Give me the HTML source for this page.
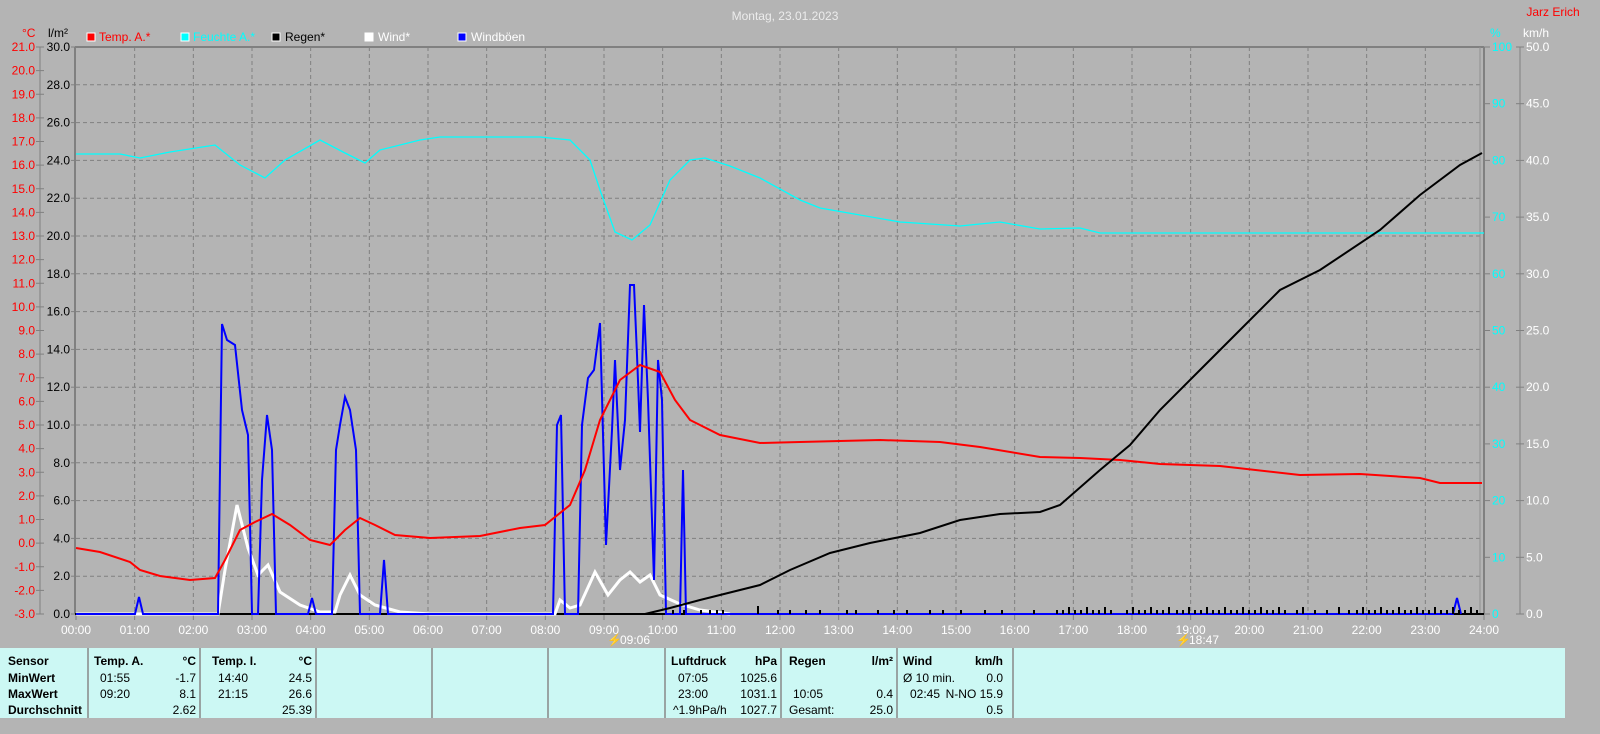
<!DOCTYPE html>
<html><head><meta charset="utf-8"><style>
body{margin:0;background:#b4b4b4;width:1600px;height:734px;overflow:hidden;font-family:"Liberation Sans",sans-serif}
svg{position:absolute;left:0;top:0}
text{font-family:"Liberation Sans",sans-serif;font-size:12px}
</style></head><body>
<svg width="1600" height="734" viewBox="0 0 1600 734">
<rect width="1600" height="734" fill="#b4b4b4"/>
<text x="785" y="20" fill="#ececec" font-size="14" text-anchor="middle">Montag, 23.01.2023</text>
<text x="1553" y="16" fill="#f00" text-anchor="middle">Jarz Erich</text>
<text x="22" y="37" fill="#f00">°C</text>
<text x="48" y="37" fill="#000">l/m²</text>
<text x="1490" y="37" fill="#0ff">%</text>
<text x="1523" y="37" fill="#fff">km/h</text>
<rect x="87" y="33" width="8" height="8" fill="#f00" stroke="#fff"/><text x="99" y="41" fill="#f00">Temp. A.*</text>
<rect x="181" y="33" width="8" height="8" fill="#0ff" stroke="#fff"/><text x="193" y="41" fill="#0ff">Feuchte A.*</text>
<rect x="272" y="33" width="8" height="8" fill="#000" stroke="#fff"/><text x="285" y="41" fill="#000">Regen*</text>
<rect x="365" y="33" width="8" height="8" fill="#fff" stroke="#fff"/><text x="378" y="41" fill="#fff">Wind*</text>
<rect x="458" y="33" width="8" height="8" fill="#00f" stroke="#fff"/><text x="471" y="41" fill="#fff">Windböen</text>
<g id="grid" stroke="#808080" stroke-dasharray="4,3" stroke-width="1"></g>
<g id="ticks"></g>
<line x1="40" y1="47" x2="40" y2="614" stroke="#808080"/>
<line x1="75" y1="47" x2="75" y2="614" stroke="#808080" stroke-width="2"/>
<line x1="75" y1="47" x2="1484" y2="47" stroke="#808080" stroke-width="2"/>
<line x1="1484" y1="47" x2="1484" y2="614" stroke="#808080" stroke-width="2"/>
<line x1="1480" y1="47" x2="1480" y2="614" stroke="#909090"/>
<line x1="1520" y1="47" x2="1520" y2="614" stroke="#808080"/>
<line x1="75" y1="614" x2="1484" y2="614" stroke="#000" stroke-width="2"/>
<polyline fill="none" stroke="#0ff" stroke-width="1.3" points="76,154 120,154 140,158 170,152 215,145 240,165 265,178 285,160 320,140 345,153 365,163 380,150 420,140 440,137 540,137 570,140 590,160 600,190 615,232 632,240 650,225 670,180 690,160 705,158 730,166 760,178 800,200 820,208 860,215 900,222 960,226 1000,222 1040,229 1080,228 1100,233 1484,233"/>
<polyline fill="none" stroke="#fff" stroke-width="3" points="76,614 218,614 225,570 237,505 248,548 258,575 268,565 280,592 300,605 320,612 335,612 340,595 350,575 360,595 375,605 400,612 430,614 555,614 560,600 570,608 580,605 595,572 608,595 620,580 630,572 640,582 650,575 660,595 680,604 700,610 730,614"/>
<polyline fill="none" stroke="#00f" stroke-width="2" points="76,614 135,614 139,597 143,614 218,614 222,324 227,340 235,345 242,410 248,435 252,614 258,614 262,480 267,415 272,450 276,614 308,614 312,598 316,614 332,614 336,450 340,425 345,397 350,410 356,450 360,614 380,614 384,560 388,614 553,614 557,425 561,415 565,614 578,614 582,425 588,378 594,370 600,323 606,545 612,430 615,360 620,470 625,420 630,285 634,285 637,355 640,432 644,305 648,400 654,580 658,360 662,400 666,614 680,614 683,470 686,614 1453,614 1457,598 1461,614"/>
<polyline fill="none" stroke="#f00" stroke-width="2" points="76,548 100,552 130,562 140,570 160,576 190,580 215,578 225,560 240,530 255,522 272,514 290,525 310,540 330,545 345,530 360,518 375,525 395,535 430,538 480,536 520,528 545,525 570,505 585,470 600,420 620,380 640,365 660,372 675,400 690,420 720,435 760,443 800,442 880,440 940,442 980,447 1040,457 1080,458 1120,460 1160,464 1220,466 1300,475 1360,474 1420,478 1440,483 1482,483"/>
<polyline fill="none" stroke="#000" stroke-width="2" points="645,614 670,608 700,600 760,585 790,570 830,553 870,543 920,533 960,520 1000,514 1040,512 1060,505 1100,470 1130,445 1160,410 1200,370 1240,330 1280,290 1320,270 1380,230 1420,195 1460,165 1482,153"/>
<g id="bars" fill="#000"></g>
<text x="620" y="644" fill="#fff">09:06</text><text x="607" y="644" fill="#ff0" font-size="10">⚡</text>
<text x="1189" y="644" fill="#fff">18:47</text><text x="1176" y="644" fill="#ff0" font-size="10">⚡</text>
<rect x="0" y="648" width="1565" height="70" fill="#ccf8f4"/>
<g stroke="#888" stroke-width="1.5"><line x1="88" y1="648" x2="88" y2="718"/><line x1="200" y1="648" x2="200" y2="718"/><line x1="316" y1="648" x2="316" y2="718"/><line x1="432" y1="648" x2="432" y2="718"/><line x1="548" y1="648" x2="548" y2="718"/><line x1="665" y1="648" x2="665" y2="718"/><line x1="781" y1="648" x2="781" y2="718"/><line x1="897" y1="648" x2="897" y2="718"/><line x1="1013" y1="648" x2="1013" y2="718"/></g>
<g font-size="11" fill="#000">
<text x="8" y="665" font-weight="bold">Sensor</text><text x="8" y="682" font-weight="bold">MinWert</text><text x="8" y="698" font-weight="bold">MaxWert</text><text x="8" y="714" font-weight="bold">Durchschnitt</text>
<text x="94" y="665" font-weight="bold">Temp. A.</text><text x="196" y="665" font-weight="bold" text-anchor="end">°C</text>
<text x="100" y="682">01:55</text><text x="196" y="682" text-anchor="end">-1.7</text>
<text x="100" y="698">09:20</text><text x="196" y="698" text-anchor="end">8.1</text>
<text x="196" y="714" text-anchor="end">2.62</text>
<text x="212" y="665" font-weight="bold">Temp. I.</text><text x="312" y="665" font-weight="bold" text-anchor="end">°C</text>
<text x="218" y="682">14:40</text><text x="312" y="682" text-anchor="end">24.5</text>
<text x="218" y="698">21:15</text><text x="312" y="698" text-anchor="end">26.6</text>
<text x="312" y="714" text-anchor="end">25.39</text>
<text x="671" y="665" font-weight="bold">Luftdruck</text><text x="777" y="665" font-weight="bold" text-anchor="end">hPa</text>
<text x="678" y="682">07:05</text><text x="777" y="682" text-anchor="end">1025.6</text>
<text x="678" y="698">23:00</text><text x="777" y="698" text-anchor="end">1031.1</text>
<text x="673" y="714">^1.9hPa/h</text><text x="777" y="714" text-anchor="end">1027.7</text>
<text x="789" y="665" font-weight="bold">Regen</text><text x="893" y="665" font-weight="bold" text-anchor="end">l/m²</text>
<text x="793" y="698">10:05</text><text x="893" y="698" text-anchor="end">0.4</text>
<text x="789" y="714">Gesamt:</text><text x="893" y="714" text-anchor="end">25.0</text>
<text x="903" y="665" font-weight="bold">Wind</text><text x="1003" y="665" font-weight="bold" text-anchor="end">km/h</text>
<text x="903" y="682">Ø 10 min.</text><text x="1003" y="682" text-anchor="end">0.0</text>
<text x="910" y="698">02:45</text><text x="1003" y="698" text-anchor="end">N-NO 15.9</text>
<text x="1003" y="714" text-anchor="end">0.5</text>
</g>
</svg>
<script>
(function(){
var ns="http://www.w3.org/2000/svg";
function el(p,t,a,txt){var e=document.createElementNS(ns,t);for(var k in a)e.setAttribute(k,a[k]);if(txt!==undefined)e.textContent=txt;p.appendChild(e);return e;}
var g=document.getElementById('grid'),tk=document.getElementById('ticks'),b=document.getElementById('bars');
var T=47,B=614,L=76,R=1484,hw=(R-L)/24;
for(var h=1;h<24;h++){var x=L+h*hw;el(g,'line',{x1:x,y1:T,x2:x,y2:B});}
for(var i=1;i<15;i++){var y=B-i*(B-T)/15;el(g,'line',{x1:L,y1:y,x2:R,y2:y});}
for(var h=0;h<=24;h++){var x=L+h*hw;el(tk,'line',{x1:x,y1:614,x2:x,y2:620,stroke:'#808080'});el(tk,'text',{x:x,y:634,fill:'#fff','text-anchor':'middle'},(h<10?'0':'')+h+':00');}
for(var i=0;i<=24;i++){var y=B-i*(B-T)/24;el(tk,'line',{x1:36,y1:y,x2:44,y2:y,stroke:'#808080'});el(tk,'text',{x:35,y:y+4,fill:'#f00','text-anchor':'end'},(i-3).toFixed(1));}
for(var i=0;i<=15;i++){var y=B-i*(B-T)/15;el(tk,'line',{x1:71,y1:y,x2:76,y2:y,stroke:'#808080'});el(tk,'text',{x:70,y:y+4,fill:'#000','text-anchor':'end'},(i*2).toFixed(1));}
for(var i=0;i<=10;i++){var y=B-i*(B-T)/10;el(tk,'line',{x1:1484,y1:y,x2:1490,y2:y,stroke:'#808080'});el(tk,'text',{x:1492,y:y+4,fill:'#0ff'},String(i*10));el(tk,'line',{x1:1516,y1:y,x2:1524,y2:y,stroke:'#808080'});el(tk,'text',{x:1526,y:y+4,fill:'#fff'},(i*5).toFixed(1));}
var bx=[672,683,700,709,716,722,757,777,789,805,819,846,855,877,893,906,929,942,960,984,1001,1033,1056,1062,1068,1074,1080,1086,1092,1098,1104,1110,1126,1132,1138,1144,1150,1156,1162,1168,1176,1182,1188,1194,1200,1206,1212,1218,1224,1230,1236,1242,1248,1254,1260,1266,1272,1278,1284,1296,1302,1314,1326,1338,1348,1356,1362,1368,1374,1380,1386,1392,1398,1404,1410,1416,1422,1428,1434,1440,1446,1452,1458,1464,1470,1476];
bx.forEach(function(x,i){var hh=(x>1040?(i%3==0?7:4):(x==757?8:4));el(b,'rect',{x:x,y:614-hh,width:2,height:hh});});
})();
</script>
</body></html>
